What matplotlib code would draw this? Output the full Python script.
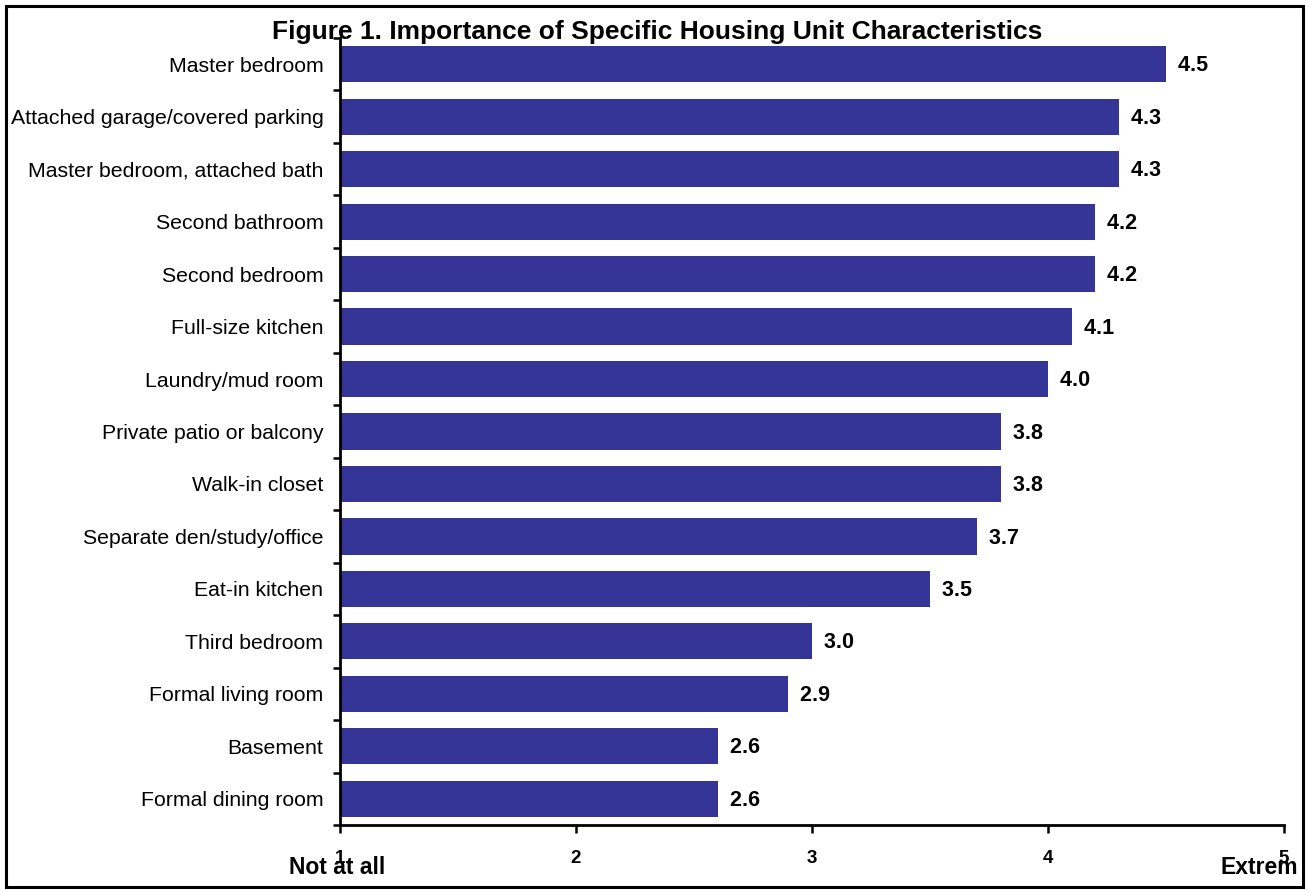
import matplotlib.pyplot as plt
from matplotlib.patches import Rectangle
from matplotlib.ticker import FixedLocator, NullFormatter

plt.rcParams['font.family'] = ['Liberation Sans', 'DejaVu Sans']

features = ['Master bedroom', 'Attached garage/covered parking',
            'Master bedroom, attached bath', 'Second bathroom',
            'Second bedroom', 'Full-size kitchen', 'Laundry/mud room',
            'Private patio or balcony', 'Walk-in closet',
            'Separate den/study/office', 'Eat-in kitchen', 'Third bedroom',
            'Formal living room', 'Basement', 'Formal dining room']
scores = [4.5, 4.3, 4.3, 4.2, 4.2, 4.1, 4.0, 3.8, 3.8, 3.7, 3.5, 3.0,
          2.9, 2.6, 2.6]
xticks = [1, 2, 3, 4, 5]

W, H = 1308, 890
fig = plt.figure(figsize=(W / 100, H / 100), dpi=100)

# axes box in pixels: left 340, right 1284, top 38, bottom 825
ax = fig.add_axes([340 / W, 1 - 825 / H, (1284 - 340) / W, (825 - 38) / H])

n = len(features)
pos = list(range(n))[::-1]
ax.barh(pos, [s - 1 for s in scores], left=1, height=0.69,
        color='#353597', edgecolor='none')

for p, s in zip(pos, scores):
    ax.text(s, p - 0.03, '  %.1f' % s, va='center', ha='left',
            fontsize=15.5, fontweight='bold', color='black')

ax.set_xlim(1, 5)
ax.set_ylim(-0.5, n - 0.5)

ax.set_yticks(pos)
ax.set_yticklabels(features, fontsize=15.3)
ax.tick_params(axis='y', which='major', length=0, pad=12)
ax.yaxis.set_minor_locator(FixedLocator([i + 0.5 for i in range(-1, n)]))
ax.yaxis.set_minor_formatter(NullFormatter())
ax.tick_params(axis='y', which='minor', direction='out', length=5, width=1.8)

ax.set_xticks(xticks)
ax.set_xticklabels([str(t) for t in xticks], fontsize=13.5, fontweight='bold')
ax.tick_params(axis='x', direction='out', length=6, width=1.8, pad=12)

for side in ['top', 'right']:
    ax.spines[side].set_visible(False)
for side in ['left', 'bottom']:
    ax.spines[side].set_linewidth(2)

fig.text(657 / W, 1 - 32 / H,
         'Figure 1. Importance of Specific Housing Unit Characteristics',
         ha='center', va='center', fontsize=19, fontweight='bold')
fig.text(289 / W, 1 - 868 / H, 'Not at all', ha='left', va='center',
         fontsize=16.5, fontweight='bold')
fig.text(1298 / W, 1 - 868 / H, 'Extrem', ha='right', va='center',
         fontsize=16.5, fontweight='bold')

# outer frame around the whole figure
fig.patches.append(Rectangle((6 / W, 3 / H), (1303 - 6) / W, (H - 9) / H,
                             transform=fig.transFigure, fill=False,
                             edgecolor='black', linewidth=2.2))

fig.savefig('out.png', dpi=100)
